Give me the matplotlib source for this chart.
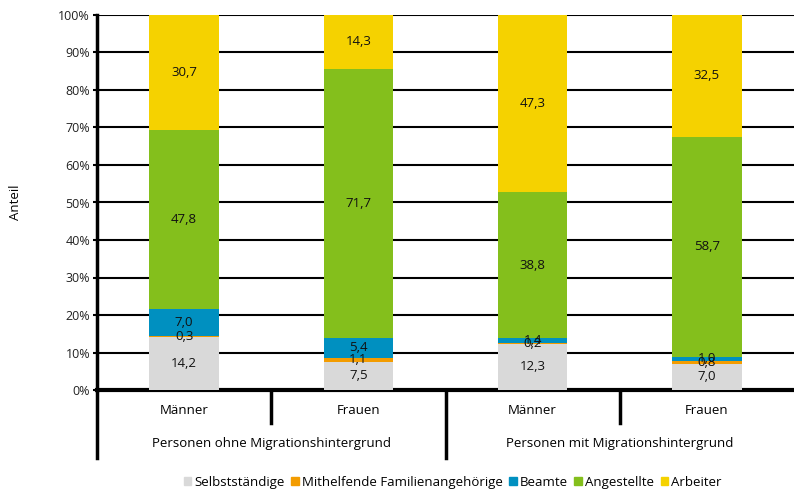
import matplotlib.pyplot as plt
import matplotlib.transforms as mtransforms
from matplotlib.patches import Patch
import numpy as np

plt.rcParams['font.family'] = ['Open Sans', 'DejaVu Sans']

sub_labels = ['Männer', 'Frauen', 'Männer', 'Frauen']
group_labels = ['Personen ohne Migrationshintergrund', 'Personen mit Migrationshintergrund']

series_names = ['Selbstständige', 'Mithelfende Familienangehörige', 'Beamte', 'Angestellte', 'Arbeiter']
selbst = [14.2, 7.5, 12.3, 7.0]
mithelfend = [0.3, 1.1, 0.2, 0.8]
beamte = [7.0, 5.4, 1.4, 1.0]
angestellte = [47.8, 71.7, 38.8, 58.7]
arbeiter = [30.7, 14.3, 47.3, 32.5]

colors = ['#D9D9D9', '#F39C00', '#0090C0', '#84BF1C', '#F5D200']

fig = plt.figure(figsize=(7.94, 4.91), dpi=100)
ax = fig.add_axes([97 / 794, 101 / 491, 697 / 794, 375 / 491])

x = np.arange(len(sub_labels)) + 0.5
bottom = np.zeros(len(sub_labels))
for name, vals, col in zip(series_names, [selbst, mithelfend, beamte, angestellte, arbeiter], colors):
    vals = np.array(vals)
    ax.bar(x, vals, 0.4, bottom=bottom, color=col, label=name, zorder=3)
    for xi, b, v in zip(x, bottom, vals):
        ax.text(xi, b + v / 2, f'{v:.1f}'.replace('.', ','), ha='center', va='center',
                fontsize=9.5, color='#111111', zorder=4)
    bottom += vals

ax.set_xlim(0, 4)
ax.set_ylim(0, 100)
ax.set_yticks(range(0, 101, 10))
ax.set_yticklabels([f'{t}%' for t in range(0, 101, 10)], fontsize=9, color='#222222')
ax.yaxis.grid(True, color='black', linewidth=1.5, zorder=0)
ax.set_xticks([])
ax.tick_params(axis='y', length=3, width=1.5, pad=2)
for s in ['top', 'right']:
    ax.spines[s].set_visible(False)
ax.spines['left'].set_linewidth(2.5)
ax.spines['bottom'].set_linewidth(3)
ax.set_ylabel('Anteil', fontsize=9.5, labelpad=26)

# category axis with two label levels and separators
trans = mtransforms.blended_transform_factory(ax.transData, ax.transAxes)
for xi, lab in zip(x, sub_labels):
    ax.text(xi, -0.055, lab, transform=trans, ha='center', va='center', fontsize=9.5)
for gx, lab in zip([1, 3], group_labels):
    ax.text(gx, -0.143, lab, transform=trans, ha='center', va='center', fontsize=9.5)
for sx in [1, 3]:
    ax.plot([sx, sx], [0, -0.088], transform=trans, color='black', lw=2.5, clip_on=False)
for sx in [0, 2]:
    ax.plot([sx, sx], [0, -0.181], transform=trans, color='black', lw=2.5, clip_on=False)

handles = [Patch(color=c) for c in colors]
fig.legend(handles, series_names, loc='center', bbox_to_anchor=(0.57, 0.018), ncol=5,
           frameon=False, fontsize=9.5, handlelength=0.6, handleheight=0.6,
           handletextpad=0.2, columnspacing=0.5)

fig.savefig('out.png', dpi=100)
